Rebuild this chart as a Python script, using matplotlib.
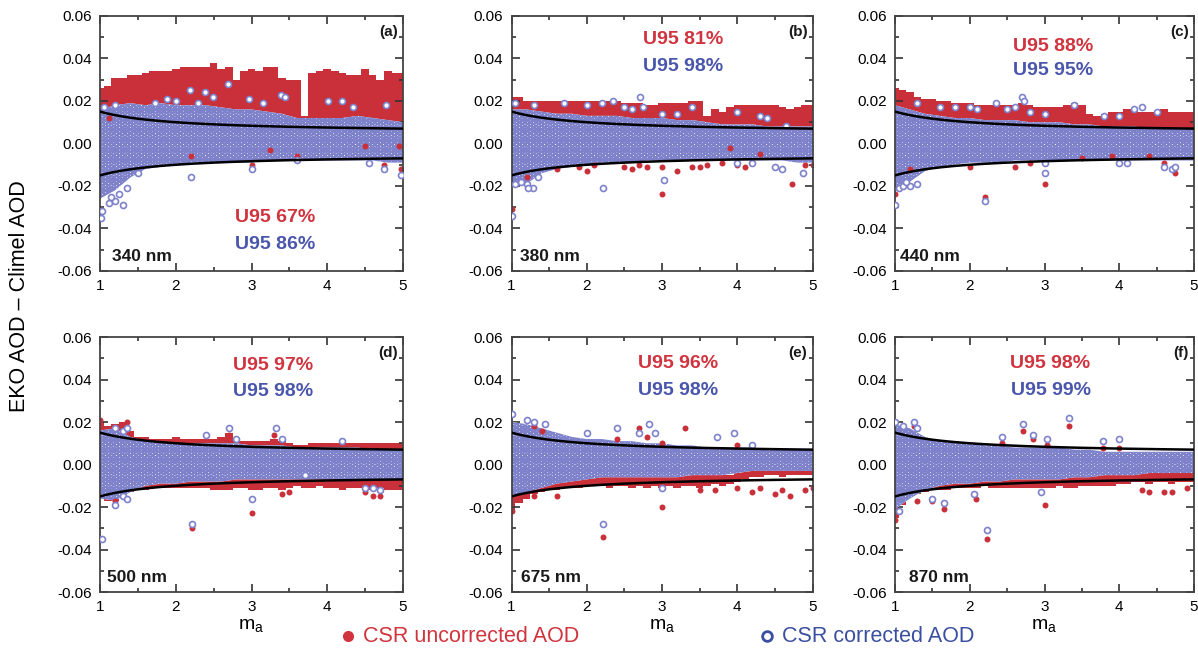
import numpy as np
import matplotlib
matplotlib.use("Agg")
import matplotlib.pyplot as plt
from matplotlib.lines import Line2D
from matplotlib.ticker import MultipleLocator, FormatStrFormatter

plt.rcParams['font.family'] = ['Liberation Sans', 'DejaVu Sans']
plt.rcParams['axes.unicode_minus'] = False
plt.rcParams['hatch.linewidth'] = 1.6

RED = '#c9303a'
BLUE = '#7d82cb'
RED_TXT = '#d0343e'
BLUE_TXT = '#4a56ab'

# ---------------------------------------------------------------- data
# air-mass grid for the uncorrected (red) point band, 0.1 steps
RED_MA = np.linspace(1.0, 5.0, 41)
# air-mass grid for the corrected (blue) point cloud, 0.2 steps
BLUE_MA = np.linspace(1.0, 5.0, 21)

WAVELENGTHS = ['340 nm', '380 nm', '440 nm', '500 nm', '675 nm', '870 nm']
PANEL_TAGS = ['(a)', '(b)', '(c)', '(d)', '(e)', '(f)']
U95_UNCORR = [67, 81, 88, 97, 96, 98]
U95_CORR = [86, 98, 95, 98, 98, 99]

# (a) 340 nm
A_RED_HI = [0.026, 0.027, 0.031, 0.031, 0.032, 0.032, 0.033, 0.034, 0.034, 0.034,
            0.035, 0.036, 0.036, 0.036, 0.036, 0.038, 0.035, 0.036, 0.030, 0.034,
            0.035, 0.034, 0.036, 0.036, 0.031, 0.030, 0.030, 0.013, 0.033, 0.034,
            0.035, 0.034, 0.033, 0.032, 0.032, 0.035, 0.032, 0.030, 0.034, 0.033, 0.033]
A_RED_LO = [0.005] * 41
A_BLUE_HI = [0.016, 0.018, 0.019, 0.018, 0.019, 0.018, 0.018, 0.018, 0.017, 0.016, 0.016,
             0.015, 0.014, 0.012, 0.012, 0.012, 0.012, 0.013, 0.012, 0.011, 0.010]
A_BLUE_LO = [-0.026, -0.022, -0.016, -0.012, -0.011, -0.010, -0.009, -0.009, -0.009, -0.009, -0.009,
             -0.008, -0.008, -0.008, -0.008, -0.008, -0.008, -0.008, -0.008, -0.009, -0.009]
A_BLUE_PTS = [(1.01, -0.035), (1.03, -0.032), (1.12, -0.028), (1.2, -0.027), (1.25, -0.024),
              (1.3, -0.029), (1.35, -0.021), (1.15, -0.025), (1.5, -0.014), (2.2, -0.016),
              (3.0, -0.012), (3.6, -0.008), (4.55, -0.009), (4.75, -0.012), (4.98, -0.015),
              (1.05, 0.017), (1.2, 0.018), (1.72, 0.019), (1.88, 0.021), (2.0, 0.020),
              (2.19, 0.025), (2.38, 0.024), (2.49, 0.022), (2.69, 0.028), (2.3, 0.019),
              (2.97, 0.021), (3.15, 0.019), (3.39, 0.023), (3.44, 0.022), (4.01, 0.020),
              (4.19, 0.020), (4.34, 0.017), (4.78, 0.018)]
A_RED_PTS = [(2.2, -0.006), (3.0, -0.010), (3.6, -0.006), (4.75, -0.010), (4.98, -0.012),
             (3.25, -0.003), (4.5, -0.001), (4.95, -0.001), (1.12, 0.012)]

# (b) 380 nm
B_RED_HI = [0.022, 0.022, 0.020, 0.020, 0.020, 0.020, 0.020, 0.020, 0.020, 0.020,
            0.020, 0.020, 0.020, 0.020, 0.020, 0.019, 0.019, 0.019, 0.018, 0.018,
            0.019, 0.019, 0.019, 0.019, 0.020, 0.020, 0.013, 0.016, 0.015, 0.017,
            0.018, 0.018, 0.018, 0.018, 0.018, 0.018, 0.017, 0.016, 0.017, 0.018, 0.018]
B_RED_LO = [0.004] * 41
B_BLUE_HI = [0.016, 0.016, 0.015, 0.014, 0.014, 0.013, 0.013, 0.013, 0.012, 0.012, 0.012,
             0.011, 0.011, 0.010, 0.009, 0.009, 0.009, 0.008, 0.008, 0.008, 0.008]
B_BLUE_LO = [-0.020, -0.019, -0.014, -0.012, -0.011, -0.010, -0.009, -0.009, -0.009, -0.008, -0.008,
             -0.008, -0.008, -0.008, -0.008, -0.008, -0.008, -0.008, -0.008, -0.009, -0.009]
B_BLUE_PTS = [(1.0, -0.034), (1.05, -0.019), (1.12, -0.018), (1.2, -0.019), (1.28, -0.021),
              (1.22, -0.021), (1.35, -0.016), (2.22, -0.021), (3.02, -0.017), (4.5, -0.011),
              (4.6, -0.012), (4.87, -0.014), (4.0, -0.009), (4.2, -0.009),
              (1.05, 0.019), (1.3, 0.018), (1.7, 0.019), (2.0, 0.018), (2.2, 0.019),
              (2.35, 0.020), (2.5, 0.017), (2.6, 0.016), (2.71, 0.022), (2.75, 0.017),
              (3.0, 0.014), (3.2, 0.014), (3.4, 0.017), (4.0, 0.015), (4.3, 0.013),
              (4.4, 0.012), (4.65, 0.008)]
B_RED_PTS = [(1.0, -0.031), (1.2, -0.016), (1.6, -0.012), (1.9, -0.011), (2.0, -0.013),
             (2.1, -0.010), (2.5, -0.011), (2.6, -0.012), (2.8, -0.011), (3.0, -0.024),
             (3.0, -0.011), (3.2, -0.013), (3.4, -0.011), (3.5, -0.011), (3.6, -0.010),
             (3.8, -0.009), (4.0, -0.010), (4.1, -0.011), (4.3, -0.005), (4.5, -0.011),
             (4.73, -0.019), (4.9, -0.010), (5.0, -0.010), (2.7, -0.010), (3.9, -0.002)]

# (c) 440 nm
C_RED_HI = [0.026, 0.025, 0.024, 0.022, 0.021, 0.021, 0.020, 0.020, 0.019, 0.019,
            0.019, 0.018, 0.018, 0.018, 0.018, 0.018, 0.018, 0.019, 0.018, 0.017,
            0.017, 0.017, 0.017, 0.018, 0.019, 0.018, 0.014, 0.013, 0.014, 0.015,
            0.015, 0.016, 0.016, 0.015, 0.015, 0.015, 0.016, 0.015, 0.015, 0.015, 0.015]
C_RED_LO = [0.003] * 41
C_BLUE_HI = [0.018, 0.016, 0.014, 0.013, 0.012, 0.012, 0.011, 0.011, 0.011, 0.010, 0.010,
             0.010, 0.009, 0.009, 0.008, 0.008, 0.008, 0.007, 0.007, 0.007, 0.007]
C_BLUE_LO = [-0.020, -0.018, -0.013, -0.011, -0.010, -0.009, -0.009, -0.009, -0.008, -0.008, -0.008,
             -0.008, -0.008, -0.008, -0.008, -0.008, -0.008, -0.008, -0.008, -0.008, -0.008]
C_BLUE_PTS = [(1.0, -0.029), (1.05, -0.021), (1.1, -0.020), (1.2, -0.020), (1.3, -0.019),
              (1.15, -0.018), (2.2, -0.027), (3.01, -0.014), (3.0, -0.009), (4.0, -0.009),
              (4.1, -0.009), (4.6, -0.011), (4.7, -0.012), (4.75, -0.011),
              (1.3, 0.019), (1.6, 0.017), (1.8, 0.017), (2.0, 0.017), (2.1, 0.016),
              (2.35, 0.019), (2.5, 0.016), (2.6, 0.017), (2.7, 0.022), (2.72, 0.020),
              (2.8, 0.015), (3.0, 0.014), (3.4, 0.018), (3.8, 0.013), (4.0, 0.013),
              (4.2, 0.016), (4.3, 0.017), (4.5, 0.015)]
C_RED_PTS = [(1.0, -0.024), (1.2, -0.012), (2.0, -0.011), (2.2, -0.025), (2.6, -0.011),
             (2.8, -0.009), (3.0, -0.019), (3.0, -0.009), (3.5, -0.007), (3.9, -0.006),
             (4.4, -0.006), (4.6, -0.009), (4.75, -0.014)]

# (d) 500 nm
D_RED_HI = [0.020, 0.018, 0.019, 0.020, 0.016, 0.013, 0.013, 0.012, 0.012, 0.012,
            0.013, 0.012, 0.012, 0.012, 0.012, 0.012, 0.013, 0.015, 0.011, 0.011,
            0.011, 0.011, 0.011, 0.012, 0.011, 0.010, 0.009, 0.009, 0.010, 0.010,
            0.010, 0.010, 0.010, 0.010, 0.010, 0.010, 0.010, 0.010, 0.010, 0.010, 0.010]
D_RED_LO = [-0.016, -0.017, -0.017, -0.014, -0.013, -0.012, -0.012, -0.011, -0.011, -0.011,
            -0.011, -0.011, -0.011, -0.011, -0.011, -0.012, -0.012, -0.012, -0.011, -0.011,
            -0.012, -0.012, -0.011, -0.011, -0.012, -0.011, -0.010, -0.011, -0.011, -0.010,
            -0.011, -0.011, -0.012, -0.011, -0.011, -0.011, -0.012, -0.011, -0.012, -0.012, -0.012]
D_BLUE_HI = [0.016, 0.017, 0.013, 0.011, 0.011, 0.010, 0.010, 0.010, 0.010, 0.010, 0.009,
             0.009, 0.009, 0.008, 0.008, 0.008, 0.008, 0.008, 0.007, 0.007, 0.007]
D_BLUE_LO = [-0.016, -0.017, -0.013, -0.010, -0.009, -0.009, -0.008, -0.008, -0.008, -0.007, -0.007,
             -0.007, -0.007, -0.007, -0.007, -0.007, -0.007, -0.007, -0.007, -0.007, -0.007]
D_BLUE_PTS = [(1.02, -0.035), (1.2, -0.019), (1.3, -0.015), (1.35, -0.016), (2.21, -0.028),
              (3.01, -0.016), (4.5, -0.011), (4.6, -0.011), (4.7, -0.012), (3.7, -0.005),
              (1.2, 0.017), (1.3, 0.016), (1.35, 0.017), (2.4, 0.014), (2.7, 0.017),
              (2.8, 0.012), (3.32, 0.017), (3.4, 0.012), (4.2, 0.011)]
D_RED_PTS = [(1.2, -0.017), (2.21, -0.030), (3.01, -0.023), (3.3, 0.014), (2.7, 0.014),
             (3.4, -0.014), (3.5, -0.013), (4.5, -0.013), (4.6, -0.015), (4.7, -0.015),
             (1.0, 0.021), (1.35, 0.020)]

# (e) 675 nm
E_RED_HI = [-0.005] * 30 + [-0.004, -0.003, -0.002, -0.002, -0.002, -0.002, -0.003,
                             -0.002, -0.002, -0.002, -0.002]
E_RED_LO = [-0.023, -0.018, -0.016, -0.014, -0.013, -0.012, -0.012, -0.011, -0.011, -0.011,
            -0.010, -0.010, -0.010, -0.011, -0.010, -0.010, -0.011, -0.010, -0.011, -0.010,
            -0.011, -0.010, -0.011, -0.010, -0.010, -0.011, -0.010, -0.009, -0.010, -0.009,
            -0.008, -0.007, -0.006, -0.006, -0.005, -0.005, -0.006, -0.005, -0.005, -0.005, -0.005]
E_BLUE_HI = [0.020, 0.019, 0.017, 0.015, 0.013, 0.012, 0.012, 0.011, 0.011, 0.010, 0.010,
             0.009, 0.009, 0.008, 0.008, 0.008, 0.008, 0.007, 0.007, 0.007, 0.007]
E_BLUE_LO = [-0.015, -0.013, -0.011, -0.009, -0.008, -0.007, -0.006, -0.006, -0.006, -0.006, -0.006,
             -0.006, -0.005, -0.005, -0.005, -0.004, -0.003, -0.003, -0.003, -0.003, -0.003]
E_BLUE_PTS = [(1.0, 0.024), (1.2, 0.021), (1.3, 0.020), (1.45, 0.019), (2.0, 0.015),
              (2.4, 0.017), (2.7, 0.015), (2.82, 0.019), (2.9, 0.015), (3.73, 0.013),
              (3.96, 0.015), (4.2, 0.009), (2.21, -0.028), (3.0, -0.011)]
E_RED_PTS = [(1.0, -0.022), (1.3, -0.015), (1.6, -0.015), (1.3, 0.018), (1.4, 0.016),
             (2.4, 0.012), (2.69, 0.017), (2.8, 0.013), (3.0, 0.010), (3.31, 0.017),
             (4.0, 0.009), (2.21, -0.034), (3.0, -0.020), (3.5, -0.012), (3.7, -0.012),
             (4.0, -0.011), (4.2, -0.013), (4.3, -0.011), (4.5, -0.014), (4.6, -0.012),
             (4.7, -0.015), (4.9, -0.012), (5.0, -0.011)]

# (f) 870 nm
F_RED_HI = [-0.004] * 30 + [-0.003] + [-0.002] * 10
F_RED_LO = [-0.025, -0.019, -0.015, -0.014, -0.013, -0.012, -0.012, -0.012, -0.011, -0.011,
            -0.011, -0.011, -0.010, -0.011, -0.011, -0.011, -0.011, -0.011, -0.011, -0.011,
            -0.011, -0.011, -0.010, -0.011, -0.011, -0.010, -0.010, -0.010, -0.010, -0.010,
            -0.009, -0.009, -0.008, -0.008, -0.009, -0.008, -0.008, -0.009, -0.008, -0.008, -0.008]
F_BLUE_HI = [0.019, 0.017, 0.013, 0.011, 0.011, 0.010, 0.009, 0.009, 0.008, 0.008, 0.008,
             0.008, 0.007, 0.007, 0.006, 0.006, 0.006, 0.006, 0.006, 0.006, 0.006]
F_BLUE_LO = [-0.021, -0.016, -0.012, -0.010, -0.009, -0.009, -0.008, -0.008, -0.007, -0.007, -0.007,
             -0.007, -0.006, -0.006, -0.005, -0.005, -0.005, -0.004, -0.004, -0.004, -0.004]
F_BLUE_PTS = [(1.0, 0.020), (1.1, 0.018), (1.25, 0.020), (1.3, 0.017), (2.43, 0.013),
              (2.71, 0.019), (2.85, 0.014), (3.03, 0.012), (3.33, 0.022), (3.78, 0.011),
              (3.99, 0.012), (2.23, -0.031), (1.65, -0.018), (2.05, -0.014), (2.95, -0.013),
              (1.5, -0.016), (1.05, -0.022)]
F_RED_PTS = [(2.23, -0.035), (3.0, -0.019), (1.65, -0.021), (3.33, 0.018), (2.71, 0.016),
             (2.85, 0.012), (3.03, 0.009), (2.43, 0.010), (1.25, 0.018), (3.78, 0.008),
             (3.99, 0.008), (1.3, -0.017), (1.5, -0.017), (2.08, -0.016), (4.3, -0.012),
             (4.4, -0.013), (4.6, -0.013), (4.7, -0.013), (4.9, -0.011), (1.0, -0.026)]

RED_HI = [A_RED_HI, B_RED_HI, C_RED_HI, D_RED_HI, E_RED_HI, F_RED_HI]
RED_LO = [A_RED_LO, B_RED_LO, C_RED_LO, D_RED_LO, E_RED_LO, F_RED_LO]
BLUE_HI = [A_BLUE_HI, B_BLUE_HI, C_BLUE_HI, D_BLUE_HI, E_BLUE_HI, F_BLUE_HI]
BLUE_LO = [A_BLUE_LO, B_BLUE_LO, C_BLUE_LO, D_BLUE_LO, E_BLUE_LO, F_BLUE_LO]
BLUE_PTS = [A_BLUE_PTS, B_BLUE_PTS, C_BLUE_PTS, D_BLUE_PTS, E_BLUE_PTS, F_BLUE_PTS]
RED_PTS = [A_RED_PTS, B_RED_PTS, C_RED_PTS, D_RED_PTS, E_RED_PTS, F_RED_PTS]

# WMO U95 traceability limits: +/-(0.005 + 0.010 / m_a)
U95_CONST = 0.005
U95_SLOPE = 0.010

# ---------------------------------------------------------------- layout
fig = plt.figure(figsize=(11.98, 6.5), dpi=100)
col_left = [0.0835, 0.4270, 0.7471]
col_width = [0.2529, 0.2513, 0.2496]
row_bottom = [0.5831, 0.0892]
row_height = 0.3923

# text placement inside each panel (axes fractions)
u95_x = [0.578, 0.57, 0.53, 0.57, 0.553, 0.52]
u95_y = [(0.208, 0.102), (0.906, 0.80), (0.88, 0.788), (0.89, 0.786), (0.898, 0.792), (0.898, 0.792)]
nm_x = [0.04, 0.029, 0.017, 0.023, 0.032, 0.047]

ma_line = np.linspace(1.0, 5.0, 200)

for i in range(6):
    r, c = divmod(i, 3)
    ax = fig.add_axes([col_left[c], row_bottom[r], col_width[c], row_height])

    ax.fill_between(RED_MA, RED_LO[i], RED_HI[i], step='mid', color=RED, lw=0, zorder=1)
    ax.fill_between(BLUE_MA, BLUE_LO[i], BLUE_HI[i], facecolor='white', edgecolor=BLUE,
                    hatch='OOO', lw=0, zorder=2)

    rx, ry = zip(*RED_PTS[i])
    ax.plot(rx, ry, 'o', ms=4.3, mfc=RED, mec=RED, mew=0, zorder=2.5)
    bx, by = zip(*BLUE_PTS[i])
    ax.plot(bx, by, 'o', ms=4.3, mfc='white', mec=BLUE, mew=1.2, zorder=3)

    limit = U95_CONST + U95_SLOPE / ma_line
    ax.plot(ma_line, limit, color='black', lw=1.8, zorder=4)
    ax.plot(ma_line, -limit, color='black', lw=1.8, zorder=4)

    ax.set_xlim(1, 5)
    ax.set_ylim(-0.06, 0.06)
    ax.xaxis.set_major_locator(MultipleLocator(1))
    ax.xaxis.set_minor_locator(MultipleLocator(0.5))
    ax.yaxis.set_major_locator(MultipleLocator(0.02))
    ax.yaxis.set_minor_locator(MultipleLocator(0.01))
    ax.yaxis.set_major_formatter(FormatStrFormatter('%.2f'))
    ax.xaxis.set_major_formatter(FormatStrFormatter('%d'))
    ax.tick_params(which='both', direction='in', top=True, right=True,
                   color='#333333', width=1.2)
    ax.tick_params(which='major', length=6, labelsize=11, pad=6)
    ax.tick_params(which='minor', length=3)
    for s in ax.spines.values():
        s.set_color('#444444')
        s.set_linewidth(1.3)

    ax.text(u95_x[i], u95_y[i][0], f'U95 {U95_UNCORR[i]}%', transform=ax.transAxes,
            ha='center', va='center', color=RED_TXT, fontsize=14, fontweight='bold', zorder=6)
    ax.text(u95_x[i], u95_y[i][1], f'U95 {U95_CORR[i]}%', transform=ax.transAxes,
            ha='center', va='center', color=BLUE_TXT, fontsize=14, fontweight='bold', zorder=6)
    ax.text(nm_x[i], 0.058, WAVELENGTHS[i], transform=ax.transAxes, ha='left', va='center',
            color='#1a1a1a', fontsize=12.5, fontweight='bold', zorder=6)
    ax.text(0.983, 0.937, PANEL_TAGS[i], transform=ax.transAxes, ha='right', va='center',
            color='#1a1a1a', fontsize=11, fontweight='bold', zorder=6)

    if r == 1:
        ax.set_xlabel(r'$\mathregular{m_a}$', fontsize=14, labelpad=2)

fig.text(0.016, 0.544, 'EKO AOD \u2013 Climel AOD', rotation=90, ha='center', va='center',
         fontsize=15.5)

# legend along the bottom edge
fig.add_artist(Line2D([348 / 1198], [1 - 636 / 650], marker='o', ms=7, mfc=RED_TXT,
                      mec=RED_TXT, transform=fig.transFigure))
fig.text(363 / 1198, 1 - 636 / 650, 'CSR uncorrected AOD', ha='left', va='center',
         color=RED_TXT, fontsize=15.5)
fig.add_artist(Line2D([767 / 1198], [1 - 636 / 650], marker='o', ms=7, mfc='white',
                      mec='#3b4fa0', mew=2, transform=fig.transFigure))
fig.text(782 / 1198, 1 - 636 / 650, 'CSR corrected AOD', ha='left', va='center',
         color='#3b4fa0', fontsize=15.5)

fig.savefig('out.png', dpi=100)
